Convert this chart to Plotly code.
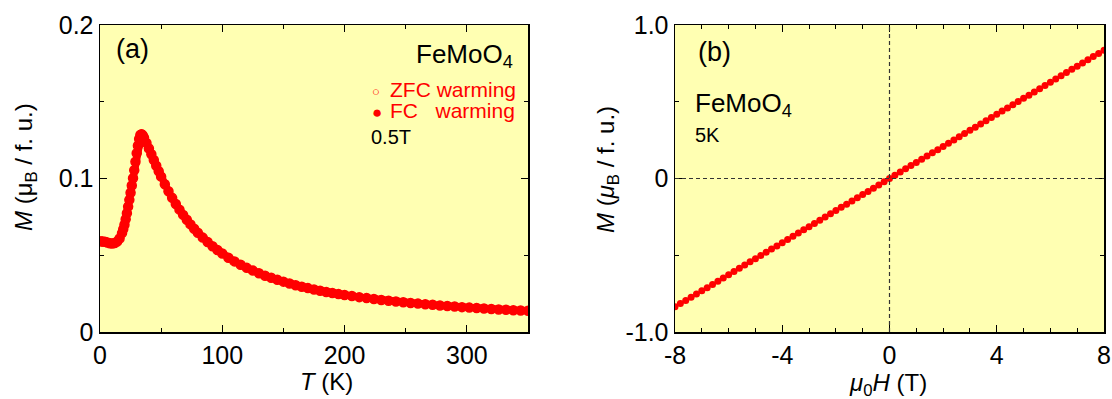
import plotly.graph_objects as go

# ---------------- data: panel (a) M vs T at 0.5 T ----------------
T_K = [1, 2, 4, 6, 8, 10, 12, 14, 16, 18, 19, 20, 21, 22, 23, 24, 25, 26, 27, 28,
       29, 30, 31, 32, 33, 34, 35, 36, 38, 40, 42, 44, 46, 48, 50, 53, 56, 59, 62,
       65, 68, 71, 74, 77, 80, 84, 88, 92, 96, 100, 105, 110, 115, 120, 125, 130,
       135, 140, 145, 150, 155, 160, 165, 170, 175, 180, 185, 190, 195, 200, 206,
       212, 218, 224, 230, 236, 242, 248, 254, 260, 266, 272, 278, 284, 290, 296,
       302, 308, 314, 320, 326, 332, 338, 344, 350]
M_FC = [0.0592, 0.0592, 0.0590, 0.0585, 0.0580, 0.0578, 0.0580, 0.0590, 0.0610,
        0.0645, 0.0670, 0.0700, 0.0735, 0.0775, 0.0818, 0.0862, 0.0908, 0.0955,
        0.1003, 0.1055, 0.1110, 0.1165, 0.1215, 0.1258, 0.1285, 0.1290, 0.1280,
        0.1265, 0.1232, 0.1195, 0.1158, 0.1120, 0.1083, 0.1047, 0.1012, 0.0963,
        0.0917, 0.0874, 0.0834, 0.0797, 0.0763, 0.0731, 0.0701, 0.0673, 0.0647,
        0.0615, 0.0586, 0.0559, 0.0534, 0.0511, 0.0484, 0.0460, 0.0438, 0.0418,
        0.0400, 0.0383, 0.0367, 0.0353, 0.0340, 0.0328, 0.0316, 0.0305, 0.0295,
        0.0286, 0.0277, 0.0269, 0.0261, 0.0254, 0.0247, 0.0241, 0.0234, 0.0227,
        0.0221, 0.0215, 0.0209, 0.0204, 0.0199, 0.0194, 0.0189, 0.0185, 0.0181,
        0.0177, 0.0173, 0.0169, 0.0166, 0.0162, 0.0159, 0.0156, 0.0153, 0.0150,
        0.0147, 0.0145, 0.0142, 0.0140, 0.0138]
M_ZFC = [0.0590, 0.0590, 0.0588, 0.0583, 0.0578, 0.0576, 0.0579, 0.0589, 0.0609,
         0.0644, 0.0669, 0.0699, 0.0734, 0.0774, 0.0817, 0.0861, 0.0907, 0.0954,
         0.1002, 0.1054, 0.1109, 0.1164, 0.1214, 0.1257, 0.1284, 0.1289, 0.1280,
         0.1265, 0.1232, 0.1195, 0.1158, 0.1120, 0.1083, 0.1047, 0.1012, 0.0963,
         0.0917, 0.0874, 0.0834, 0.0797, 0.0763, 0.0731, 0.0701, 0.0673, 0.0647,
         0.0615, 0.0586, 0.0559, 0.0534, 0.0511, 0.0484, 0.0460, 0.0438, 0.0418,
         0.0400, 0.0383, 0.0367, 0.0353, 0.0340, 0.0328, 0.0316, 0.0305, 0.0295,
         0.0286, 0.0277, 0.0269, 0.0261, 0.0254, 0.0247, 0.0241, 0.0234, 0.0227,
         0.0221, 0.0215, 0.0209, 0.0204, 0.0199, 0.0194, 0.0189, 0.0185, 0.0181,
         0.0177, 0.0173, 0.0169, 0.0166, 0.0162, 0.0159, 0.0156, 0.0153, 0.0150,
         0.0147, 0.0145, 0.0142, 0.0140, 0.0138]

# ---------------- data: panel (b) M vs H at 5 K ----------------
H_T = [-8.0, -7.8, -7.6, -7.4, -7.2, -7.0, -6.8, -6.6, -6.4, -6.2, -6.0, -5.8, -5.6,
       -5.4, -5.2, -5.0, -4.8, -4.6, -4.4, -4.2, -4.0, -3.8, -3.6, -3.4, -3.2, -3.0,
       -2.8, -2.6, -2.4, -2.2, -2.0, -1.8, -1.6, -1.4, -1.2, -1.0, -0.8, -0.6, -0.4,
       -0.2, 0.0, 0.2, 0.4, 0.6, 0.8, 1.0, 1.2, 1.4, 1.6, 1.8, 2.0, 2.2, 2.4, 2.6,
       2.8, 3.0, 3.2, 3.4, 3.6, 3.8, 4.0, 4.2, 4.4, 4.6, 4.8, 5.0, 5.2, 5.4, 5.6,
       5.8, 6.0, 6.2, 6.4, 6.6, 6.8, 7.0, 7.2, 7.4, 7.6, 7.8, 8.0]
M_H = [-0.836, -0.815, -0.794, -0.773, -0.752, -0.732, -0.711, -0.690, -0.669,
       -0.648, -0.627, -0.606, -0.585, -0.564, -0.543, -0.523, -0.502, -0.481,
       -0.460, -0.439, -0.418, -0.397, -0.376, -0.355, -0.334, -0.314, -0.293,
       -0.272, -0.251, -0.230, -0.209, -0.188, -0.167, -0.146, -0.125, -0.105,
       -0.084, -0.063, -0.042, -0.021, 0.000, 0.021, 0.042, 0.063, 0.084, 0.105,
       0.125, 0.146, 0.167, 0.188, 0.209, 0.230, 0.251, 0.272, 0.293, 0.314,
       0.334, 0.355, 0.376, 0.397, 0.418, 0.439, 0.460, 0.481, 0.502, 0.523,
       0.543, 0.564, 0.585, 0.606, 0.627, 0.648, 0.669, 0.690, 0.711, 0.732,
       0.752, 0.773, 0.794, 0.815, 0.836]

# tick labels
XA_TICKS = [0, 100, 200, 300]
XA_TEXT = ["0", "100", "200", "300"]
YA_TICKS = [0, 0.1, 0.2]
YA_TEXT = ["0", "0.1", "0.2"]
XB_TICKS = [-8, -4, 0, 4, 8]
XB_TEXT = ["-8", "-4", "0", "4", "8"]
YB_TICKS = [-1, 0, 1]
YB_TEXT = ["-1.0", "0", "1.0"]

W, H = 1112, 399
FONT = "Arial, 'Liberation Sans', Helvetica, sans-serif"
BG = "#FFFFB2"
RED = "#FF0000"


def px(x):
    return x / W


def py(y):
    return (H - y) / H


fig = go.Figure()

fig.add_trace(go.Scatter(x=T_K, y=M_ZFC, mode="markers", name="ZFC warming",
                         marker=dict(symbol="circle-open", size=9, color=RED,
                                     line=dict(width=1.5, color=RED)),
                         xaxis="x", yaxis="y", showlegend=False))
fig.add_trace(go.Scatter(x=T_K, y=M_FC, mode="lines+markers", name="FC warming",
                         line=dict(color=RED, width=7),
                         marker=dict(symbol="circle", size=9, color=RED),
                         xaxis="x", yaxis="y", showlegend=False))
fig.add_trace(go.Scatter(x=H_T, y=M_H, mode="markers", name="5K",
                         marker=dict(symbol="circle", size=7, color=RED),
                         xaxis="x2", yaxis="y2", showlegend=False))

axis_common = dict(
    showgrid=False, zeroline=False, showline=True, linecolor="black", linewidth=1.5,
    mirror="allticks", ticks="inside", ticklen=7, tickwidth=1, tickcolor="black",
    tickfont=dict(family=FONT, size=25, color="black"), automargin=False,
)

XD_A = [px(100), px(528)]
XD_B = [px(675), px(1104)]
YD = [py(332), py(25)]

fig.update_layout(
    width=W, height=H,
    margin=dict(l=0, r=0, t=0, b=0, autoexpand=False),
    paper_bgcolor="white", plot_bgcolor=BG,
    font=dict(family=FONT, color="black"),
    xaxis=dict(domain=XD_A, range=[0, 350], anchor="y", tickvals=XA_TICKS,
               ticktext=XA_TEXT,
               minor=dict(ticks="inside", dtick=50, tick0=0, ticklen=4,
                          tickcolor="black", showgrid=False),
               **axis_common),
    yaxis=dict(domain=YD, range=[0, 0.2], anchor="x", tickvals=YA_TICKS,
               ticktext=YA_TEXT,
               minor=dict(ticks="inside", dtick=0.05, tick0=0, ticklen=4,
                          tickcolor="black", showgrid=False),
               **axis_common),
    xaxis2=dict(domain=XD_B, range=[-8, 8], anchor="y2", tickvals=XB_TICKS,
                ticktext=XB_TEXT,
                minor=dict(ticks="inside", dtick=1, tick0=0, ticklen=4,
                           tickcolor="black", showgrid=False),
                **axis_common),
    yaxis2=dict(domain=YD, range=[-1, 1], anchor="x2", tickvals=YB_TICKS,
                ticktext=YB_TEXT,
                minor=dict(ticks="inside", dtick=0.5, tick0=0, ticklen=4,
                           tickcolor="black", showgrid=False),
                **axis_common),
)

# dashed zero lines in (b)
fig.add_shape(type="line", xref="x2", yref="y2", x0=0, x1=0, y0=-1, y1=1,
              line=dict(color="#333333", width=1.2, dash="4px,3px"))
fig.add_shape(type="line", xref="x2", yref="y2", x0=-8, x1=8, y0=0, y1=0,
              line=dict(color="#333333", width=1.2, dash="4px,3px"))

ann = []


def add(text, x, y, size, color="black", xanchor="left", yanchor="middle", angle=0):
    ann.append(dict(text=text, x=px(x), y=py(y), xref="paper", yref="paper",
                    xanchor=xanchor, yanchor=yanchor, showarrow=False, textangle=angle,
                    font=dict(family=FONT, size=size, color=color)))


# panel (a) texts
add("(a)", 114, 49, 27)
add("FeMoO<sub>4</sub>", 515, 55, 26, xanchor="right")
add("\u25CB", 376, 91, 13, color=RED, xanchor="center")
add("ZFC warming", 388, 89, 21, color=RED)
add("\u25CF", 377, 112, 17, color=RED, xanchor="center")
add("FC\u00a0\u00a0\u00a0warming", 388, 110, 21, color=RED)
add("0.5T", 369, 137, 20)
add("<i>T</i> (K)", 326, 381, 24, xanchor="center")
add("<i>M</i> (\u03bc<sub>B</sub> / f. u.)", 25, 167, 24, xanchor="center", angle=-90)

# panel (b) texts
add("(b)", 696, 52, 27)
add("FeMoO<sub>4</sub>", 693, 104, 26)
add("5K", 693, 135, 20)
add("<i>\u03bc</i><sub>0</sub><i>H</i> (T)", 888, 384, 24, xanchor="center")
add("<i>M</i> (<i>\u03bc</i><sub>B</sub> / f. u.)", 607, 170, 24, xanchor="center", angle=-90)

fig.update_layout(annotations=ann)

# remove the default page margin so the 1112x399 figure fills the window exactly
PAGE_JS = "document.body.style.margin='0';document.body.style.overflow='hidden';"
fig.write_html("out.html", post_script=PAGE_JS,
               config={"displayModeBar": False, "staticPlot": True})
